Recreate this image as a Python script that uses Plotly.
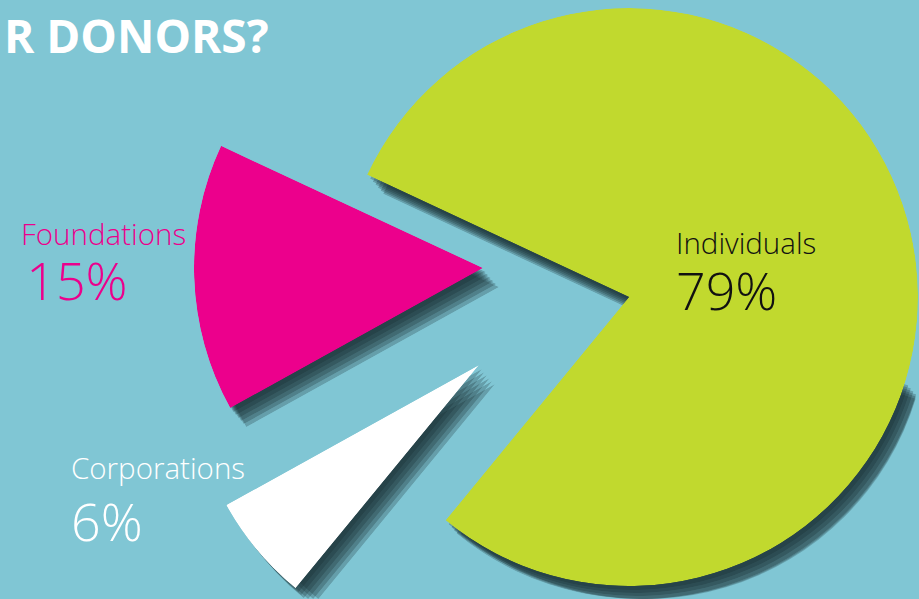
import math
import plotly.graph_objects as go

# ---------------- data ----------------
categories = ["Foundations", "Corporations", "Individuals"]
shares = [15, 6, 79]
share_labels = ["15%", "6%", "79%"]
title_text = "R DONORS?"

# ---------------- layout constants ----------------
W, H = 919, 599
BG = "#80C6D4"
SLICE_COLORS = ["#EC008C", "#FFFFFF", "#C1D92E"]
LABEL_COLORS = ["#EC008C", "#FFFFFF", "#111111"]
START_ANGLE = 155.0            # first slice starts here (deg, ccw from east)
R_PX = 289                     # pie radius in pixels
# exploded vertex of each slice (pixels, from top-left of figure)
VERTICES = [(483, 268), (479, 365), (629, 297)]
# soft drop shadow: several translucent copies, stepping down-right
SHADOW_LAYERS = [(3 + 2.6 * j, 4 + 3.0 * j, 0.25) for j in range(6)]
SHADOW_RGB = "18,38,44"


def sector_bbox(s0, s1):
    """Replicates plotly.js computeSectorBBox."""
    arc = s1 - s0
    a0 = s0 % 360
    a1 = a0 + arc
    c = lambda a: math.cos(math.radians(a))
    s = lambda a: math.sin(math.radians(a))
    ax0, ay0, ax1, ay1 = c(a0), s(a0), c(a1), s(a1)
    if (a0 <= 90 <= a1) or (a0 > 90 and a1 >= 450):
        y1 = 1
    elif ay0 <= 0 and ay1 <= 0:
        y1 = 0
    else:
        y1 = max(ay0, ay1)
    if (a0 <= 180 <= a1) or (a0 > 180 and a1 >= 540):
        x0 = -1
    elif ax0 >= 0 and ax1 >= 0:
        x0 = 0
    else:
        x0 = min(ax0, ax1)
    if (a0 <= 270 <= a1) or (a0 > 270 and a1 >= 630):
        y0 = -1
    elif ay0 >= 0 and ay1 >= 0:
        y0 = 0
    else:
        y0 = min(ay0, ay1)
    if a1 >= 360:
        x1 = 1
    elif ax0 <= 0 and ax1 <= 0:
        x1 = 0
    else:
        x1 = max(ax0, ax1)
    return x0, y0, x1, y1


fig = go.Figure()
polar_layouts = {}
counter = [0]


def add_wedge(vertex, sector, theta_mid, width, color, name):
    counter[0] += 1
    pid = "polar" if counter[0] == 1 else "polar%d" % counter[0]
    x0, y0, x1, y1 = sector_bbox(*sector)
    cx, cy = vertex
    R = float(R_PX)
    if x0 < 0:
        R = min(R, cx / -x0)
    if x1 > 0:
        R = min(R, (W - cx) / x1)
    if y1 > 0:
        R = min(R, cy / y1)
    if y0 < 0:
        R = min(R, (H - cy) / -y0)
    k = R / R_PX
    dx = [max(0, (cx + x0 * R) / W), min(1, (cx + x1 * R) / W)]
    dy = [max(0, 1 - (cy - y0 * R) / H), min(1, 1 - (cy - y1 * R) / H)]
    polar_layouts[pid] = dict(
        domain=dict(x=dx, y=dy),
        sector=list(sector),
        bgcolor="rgba(0,0,0,0)",
        hole=0,
        radialaxis=dict(visible=False, range=[0, k]),
        angularaxis=dict(visible=False, rotation=0, direction="counterclockwise"),
    )
    fig.add_trace(go.Barpolar(
        r=[1], theta=[theta_mid], width=[width], base=0,
        marker=dict(color=color, line=dict(width=0)),
        subplot=pid, name=name, showlegend=False, hoverinfo="skip",
    ))


# slice angles from the shares
angles = []
a = START_ANGLE
for v in shares:
    w = v / sum(shares) * 360.0
    angles.append((a, a + w))
    a += w

# shadows first
for sdx, sdy, alpha in SHADOW_LAYERS:
    col = "rgba(%s,%s)" % (SHADOW_RGB, alpha)
    for i, (t0, t1) in enumerate(angles):
        vx, vy = VERTICES[i]
        v = (vx + sdx, vy + sdy)
        mid, wd = (t0 + t1) / 2, t1 - t0
        if t1 - t0 > 180:
            # large slice: only the visible parts of its shadow
            add_wedge(v, (t0, 343), mid, wd, col, categories[i] + " shadow")
            add_wedge(v, (100, t1 - 360), mid, wd, col, categories[i] + " shadow")
        else:
            add_wedge(v, (t0, t1), mid, wd, col, categories[i] + " shadow")

# slices
for i, (t0, t1) in enumerate(angles):
    add_wedge(VERTICES[i], (t0, t1), (t0 + t1) / 2, t1 - t0, SLICE_COLORS[i], categories[i])

# labels: (x, top y, line pitch, indent of the percentage) in pixels
LABEL_POS = [(19, 211.5, 55, 20), (69, 444.5, 62, 0), (674, 219.5, 56, 0)]
annotations = []
for i, name in enumerate(categories):
    lx, ly, pitch, indent = LABEL_POS[i]
    pad = "<span style='font-size:%dpx'> </span>" % indent if indent else ""
    annotations.append(dict(
        text="<span style='font-size:29.5px'>%s</span><br>%s"
             "<span style='font-size:52px'>%s</span>" % (name, pad, share_labels[i]),
        x=lx / W, y=1 - ly / H, xref="paper", yref="paper",
        xanchor="left", yanchor="top", align="left", showarrow=False,
        font=dict(family="Open Sans", size=pitch / 1.3, color=LABEL_COLORS[i], weight=300)))

annotations.append(dict(
    text=title_text, x=2 / W, y=1 - 2 / H, xref="paper", yref="paper",
    xanchor="left", yanchor="top", showarrow=False,
    font=dict(family="Open Sans", size=46, color="#FFFFFF", weight=700)))

fig.update_layout(
    width=W, height=H,
    margin=dict(l=0, r=0, t=0, b=0),
    paper_bgcolor=BG, plot_bgcolor=BG,
    showlegend=False,
    annotations=annotations,
    **polar_layouts,
)

fig.write_html(
    "out.html",
    config={"displayModeBar": False},
    post_script="document.body.style.margin='0';document.body.style.background='%s';" % BG,
)
